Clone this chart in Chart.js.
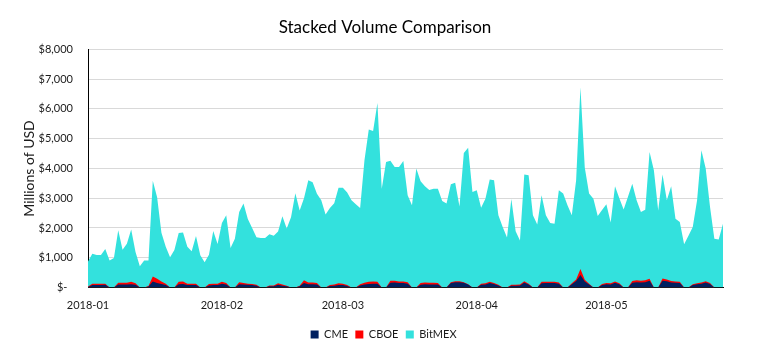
<!DOCTYPE html>
<html>
<head>
<meta charset="utf-8">
<script src="https://cdn.jsdelivr.net/npm/chart.js@4.4.1/dist/chart.umd.min.js"></script>
<style>
html,body{margin:0;padding:0;background:#ffffff;}
#wrap{width:759px;height:353px;}
</style>
</head>
<body>
<div id="wrap"><canvas id="c" width="759" height="353"></canvas></div>
<script>
// Categories: daily dates from 2018-01-01, 148 days (to 2018-05-28)
const startDate = '2018-01-01';
const dayCount = 148;
const dates = [];
(function () {
  const d0 = new Date(startDate + 'T00:00:00Z');
  for (let i = 0; i < dayCount; i++) {
    const d = new Date(d0.getTime() + i * 86400000);
    dates.push(d.toISOString().slice(0, 10));
  }
})();
const monthTicks = ['2018-01', '2018-02', '2018-03', '2018-04', '2018-05'];

// Millions of USD
const cme = [
  20,80,80,80,90,0,0,
  100,100,100,110,90,0,0,
  30,200,150,120,80,0,0,
  110,120,80,80,80,0,0,
  70,80,80,130,100,0,0,
  110,100,90,80,60,0,0,
  40,40,90,60,40,0,0,
  40,150,110,110,100,0,0,
  50,60,80,80,50,0,0,
  70,100,120,130,130,0,0,
  160,170,150,150,130,0,0,
  90,110,100,100,100,0,0,
  150,180,180,160,100,0,0,
  90,100,150,120,70,0,0,
  60,60,70,170,100,0,0,
  140,150,150,150,130,0,0,
  110,220,420,200,100,0,0,
  80,110,100,160,110,0,0,
  160,180,170,180,230,0,0,
  230,210,170,160,150,0,0,
  80,110,130,170,120,0,0,
  0
];
const cboe = [
  10,45,45,45,40,0,0,
  60,60,60,80,50,0,0,
  20,170,140,80,45,0,0,
  80,80,50,50,50,0,0,
  50,50,50,60,50,0,0,
  70,50,40,40,30,0,0,
  30,30,50,40,20,0,0,
  20,90,60,60,50,0,0,
  30,40,60,50,30,0,0,
  40,60,70,70,60,0,0,
  70,60,50,50,50,0,0,
  60,60,60,60,50,0,0,
  30,30,30,20,10,0,0,
  40,40,40,30,20,0,0,
  30,30,30,40,30,0,0,
  50,40,40,40,40,0,0,
  30,50,200,60,30,0,0,
  40,40,40,40,30,0,0,
  60,60,60,60,60,0,0,
  70,60,50,40,40,0,0,
  30,30,40,40,30,0,0,
  0
];
const bitmex = [
  840,1005,965,965,1160,910,990,1760,1110,1310,
  1760,1050,710,910,860,3220,2740,1640,1245,1020,
  1260,1640,1650,1240,1085,1600,1080,850,980,1770,
  1330,1980,2275,1330,1640,2355,2670,2170,1880,1600,
  1660,1660,1720,1670,1740,2290,1920,2360,3170,2530,
  2760,3430,3370,3000,2930,2455,2590,2730,3215,3225,
  3110,2930,2800,2560,4115,5120,5060,6010,3320,4220,
  4030,3820,3850,4050,2920,2760,4000,3420,3230,3120,
  3160,3170,2905,2820,3290,3310,2515,4340,4585,3210,
  3265,2550,2845,3435,3450,2335,2030,1680,2880,1800,
  1480,3585,3640,2425,2120,2910,2235,1975,1955,3095,
  3155,2760,2285,3330,6105,3770,3025,2985,2400,2480,
  2645,2040,3200,2860,2620,3050,3270,2690,2305,2375,
  4265,3940,2590,3500,2660,3180,2110,2010,1450,1740,
  1920,2790,4440,3790,2555,1640,1615,2145
];

const FONT = 'Lato';
const TXT = '#1a1a1a';

new Chart(document.getElementById('c'), {
  type: 'line',
  data: {
    labels: dates,
    datasets: [
      { label: 'CME', data: cme, backgroundColor: '#002060', borderColor: '#002060', borderWidth: 0, pointRadius: 0, fill: 'origin', tension: 0 },
      { label: 'CBOE', data: cboe, backgroundColor: '#FF0000', borderColor: '#FF0000', borderWidth: 0, pointRadius: 0, fill: 'origin', tension: 0 },
      { label: 'BitMEX', data: bitmex, backgroundColor: '#33E1DD', borderColor: '#33E1DD', borderWidth: 0, pointRadius: 0, fill: 'origin', tension: 0 }
    ]
  },
  options: {
    responsive: false,
    animation: false,
    devicePixelRatio: 1,
    layout: { padding: { left: 11, right: 0, top: 0, bottom: 3 } },
    plugins: {
      title: {
        display: true,
        text: 'Stacked Volume Comparison',
        color: '#000',
        font: { family: FONT, size: 17, weight: 'normal' },
        padding: { top: 17, bottom: 12 }
      },
      legend: {
        position: 'bottom',
        labels: {
          boxWidth: 8, boxHeight: 8, padding: 4.5, color: TXT, font: { family: FONT, size: 11 },
          generateLabels: function (chart) {
            return Chart.defaults.plugins.legend.labels.generateLabels(chart).map(function (l) {
              l.text = l.text + ' ';
              return l;
            });
          }
        }
      },
      tooltip: { enabled: false }
    },
    scales: {
      x: {
        type: 'category',
        grid: { display: false, drawTicks: false },
        border: { display: true, color: '#000', width: 1 },
        ticks: {
          autoSkip: false, maxRotation: 0, minRotation: 0, padding: 11,
          color: TXT, font: { family: FONT, size: 11 },
          callback: function (v, i) {
            const m = dates[i].slice(0, 7);
            return (dates[i].endsWith('-01') && monthTicks.includes(m)) ? m : '';
          }
        },
        afterFit: function (s) { s.height = 37; }
      },
      y: {
        stacked: true,
        min: 0, max: 8000,
        grid: { color: '#d9d9d9', drawTicks: false },
        border: { display: true, color: '#000', width: 1 },
        ticks: {
          stepSize: 1000, padding: 15, color: TXT, font: { family: FONT, size: 11 },
          callback: function (v) { return v === 0 ? '$-  ' : '$' + v.toLocaleString('en-US'); }
        },
        title: { display: true, text: 'Millions of USD', color: TXT, font: { family: FONT, size: 14 }, padding: { top: 10.5, bottom: 0 } },
        afterFit: function (s) { s.width = 77; }
      },
      yRight: {
        type: 'linear',
        position: 'right',
        display: true,
        grid: { display: false, drawTicks: false },
        border: { display: false },
        ticks: { display: false },
        afterFit: function (s) { s.width = 36; }
      }
    }
  }
});
</script>
</body>
</html>
